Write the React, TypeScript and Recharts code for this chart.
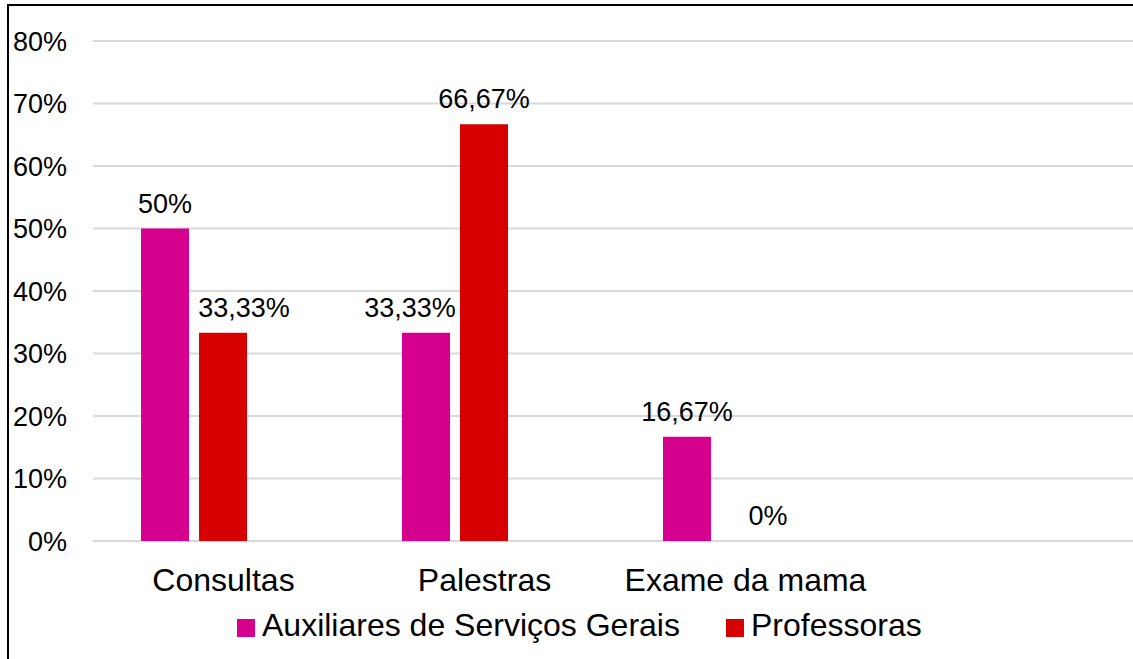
import React from 'react';
import {
  BarChart,
  Bar,
  XAxis,
  YAxis,
  CartesianGrid,
  Legend,
  LabelList,
} from 'recharts';

// values (percent)
const CATEGORIES = ['Consultas', 'Palestras', 'Exame da mama'];
const AUXILIARES = [50, 33.33, 16.67];
const PROFESSORAS = [33.33, 66.67, 0];
const Y_TICKS = [0, 10, 20, 30, 40, 50, 60, 70, 80];

const SERIES = [
  { key: 'aux', name: 'Auxiliares de Serviços Gerais', color: '#D6008F' },
  { key: 'prof', name: 'Professoras', color: '#D60000' },
];

// Excel moved a few labels sideways so they don't collide
const LABEL_NUDGE: Record<string, number[]> = {
  aux: [0, -16, 0],
  prof: [21, 0, 23],
};

const FONT = '"Liberation Sans", Arial, sans-serif';

const data = CATEGORIES.map((name, i) => ({
  idx: i,
  name,
  aux: AUXILIARES[i],
  prof: PROFESSORAS[i],
}));

const fmtPct = (v: number) => `${String(v).replace('.', ',')}%`;

function makeLabel(key: string) {
  return (props: any) => {
    const { x, y, width, height, value, index } = props;
    const nudge = LABEL_NUDGE[key][index] ?? 0;
    // minPointSize gives zero bars a sliver of height; anchor on the bar's bottom instead
    const top = Number(y) + Number(height) - (Number(value) === 0 ? 0 : Number(height));
    return (
      <text
        x={Number(x) + Number(width) / 2 + nudge}
        y={top - 16}
        textAnchor="middle"
        fontSize={27}
        fontFamily={FONT}
        fill="#000"
      >
        {fmtPct(value)}
      </text>
    );
  };
}

// category text sits a bit right of the bar group, like in the original
function CategoryTick(props: any) {
  const { x, y, payload } = props;
  return (
    <text x={Number(x) + 29} y={y} dy="0.71em" textAnchor="middle" fontSize={32} fontFamily={FONT} fill="#000">
      {CATEGORIES[payload.value] ?? ''}
    </text>
  );
}

function LegendContent(props: any) {
  const items = props.payload ?? [];
  return (
    <div style={{ display: 'flex', alignItems: 'center', fontFamily: FONT, fontSize: 32, lineHeight: '32px', color: '#000' }}>
      {items.map((it: any, i: number) => (
        <div key={i} style={{ display: 'flex', alignItems: 'center', marginRight: i === 0 ? 46 : 0 }}>
          <span style={{ display: 'inline-block', width: 18, height: 18, background: it.color, marginTop: 5, marginRight: 7 }} />
          <span style={{ whiteSpace: 'nowrap' }}>{it.value}</span>
        </div>
      ))}
    </div>
  );
}

export default function App() {
  return (
    <div style={{ position: 'absolute', left: 0, top: 0, width: 1133, height: 659, overflow: 'hidden', background: '#fff' }}>
      <div style={{ position: 'absolute', left: 7, top: 4, width: 2, height: 660, background: '#000' }} />
      <div style={{ position: 'absolute', left: 7, top: 4, width: 1130, height: 2, background: '#000' }} />
      <BarChart
        width={1133}
        height={659}
        data={data}
        margin={{ top: 41, right: 0, bottom: 58, left: 0 }}
        barGap={10}
      >
        <CartesianGrid horizontal vertical={false} stroke="#D9D9D9" strokeWidth={2} />
        <XAxis
          type="number"
          dataKey="idx"
          domain={[-0.389, 3.596]}
          ticks={[0, 1, 2]}
          interval={0}
          height={60}
          axisLine={false}
          tickLine={false}
          tickSize={0}
          tickMargin={27}
          tick={<CategoryTick />}
        />
        <YAxis
          domain={[0, 80]}
          ticks={Y_TICKS}
          width={93}
          axisLine={false}
          tickLine={false}
          tickSize={0}
          tickMargin={26}
          tickFormatter={(v: number) => `${v}%`}
          tick={{ fontSize: 27, fontFamily: FONT, fill: '#000' }}
        />
        <Legend
          layout="horizontal"
          verticalAlign="middle"
          align="center"
          wrapperStyle={{ left: 237, top: 609, width: 'auto' }}
          content={<LegendContent />}
        />
        {SERIES.map((s) => (
          <Bar
            key={s.key}
            dataKey={s.key}
            name={s.name}
            fill={s.color}
            barSize={48}
            minPointSize={0.01}
            isAnimationActive={false}
          >
            <LabelList dataKey={s.key} content={makeLabel(s.key)} />
          </Bar>
        ))}
      </BarChart>
    </div>
  );
}
